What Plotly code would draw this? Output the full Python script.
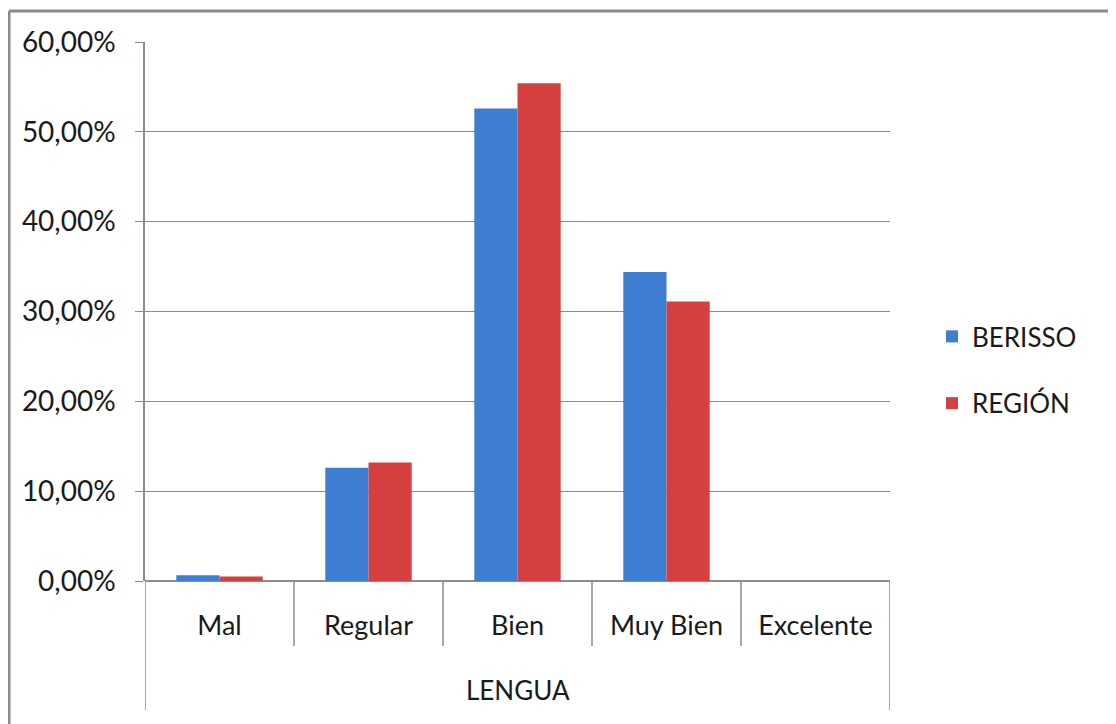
import plotly.graph_objects as go

categories = ["Mal", "Regular", "Bien", "Muy Bien", "Excelente"]
berisso = [0.0063, 0.126, 0.526, 0.344, 0.0]
region = [0.0050, 0.132, 0.554, 0.311, 0.0]
group_label = "LENGUA"
y_ticks = [0, 0.1, 0.2, 0.3, 0.4, 0.5, 0.6]

FONT = "Lato"
fig = go.Figure()
fig.add_trace(go.Bar(x=categories, y=berisso, name="BERISSO", legendgroup="a",
                     marker=dict(color="#3E7ED2", line=dict(color="#2F63A8", width=0))))
fig.add_trace(go.Bar(x=categories, y=region, name="REGIÓN", legendgroup="b",
                     marker=dict(color="#D53F3F", line=dict(color="#A83030", width=0))))

# plot area in page pixels: x 145..890, y 42..581 ; page has 8px body offset
L, R, T, B = 137, 234, 34, 151
PW = 1116 - L - R
PH = 724 - T - B

shapes = []
gray = "#8C8C8C"
for b in [0.5, 1.5, 2.5, 3.5]:
    shapes.append(dict(type="line", xref="x", yref="paper", x0=b, x1=b, y0=0, y1=-65 / PH,
                       line=dict(color=gray, width=1.5)))
for b in [-0.5, 4.5]:
    shapes.append(dict(type="line", xref="x", yref="paper", x0=b, x1=b, y0=0, y1=-129 / PH,
                       line=dict(color=gray, width=1.5)))
# outer border of the picture (left and top edges)
shapes.append(dict(type="line", xref="paper", yref="paper",
                   x0=(-L + 1) / PW, x1=(1116 - L) / PW, y0=(PH + T - 3) / PH, y1=(PH + T - 3) / PH,
                   line=dict(color="#8A8A8A", width=3)))
shapes.append(dict(type="line", xref="paper", yref="paper",
                   x0=(-L + 1) / PW, x1=(-L + 1) / PW, y0=(PH + T - 3) / PH, y1=-B / PH,
                   line=dict(color="#8A8A8A", width=3)))

fig.update_layout(
    width=1116, height=724,
    margin=dict(l=L, r=R, t=T, b=B),
    paper_bgcolor="white", plot_bgcolor="white",
    separators=",.",
    barmode="group", bargap=0.42, bargroupgap=0,
    font=dict(family=FONT, size=26, color="#1a1a1a"),
    xaxis=dict(range=[-0.5, 4.5], showgrid=False, showline=False, ticks="",
               ticklabelstandoff=26, tickfont=dict(size=27)),
    yaxis=dict(range=[0, 0.6], tickvals=y_ticks, tickformat=".2%",
               showgrid=True, gridcolor=gray, gridwidth=1.2,
               zeroline=True, zerolinecolor=gray, zerolinewidth=1.5,
               showline=True, linecolor=gray, linewidth=1.5,
               ticks="outside", ticklen=8, tickcolor=gray, tickwidth=1.2,
               ticklabelstandoff=14, tickfont=dict(size=28)),
    legend=dict(x=(932 - 145) / 745, y=(581 - 370) / 539, yanchor="middle", xanchor="left",
                tracegroupgap=30, font=dict(size=26), itemwidth=30),
    shapes=shapes,
    annotations=[dict(text=group_label, x=2, xref="x", y=-109 / PH, yref="paper",
                      showarrow=False, font=dict(size=26), yanchor="middle")],
)

fig.write_html("out.html")
